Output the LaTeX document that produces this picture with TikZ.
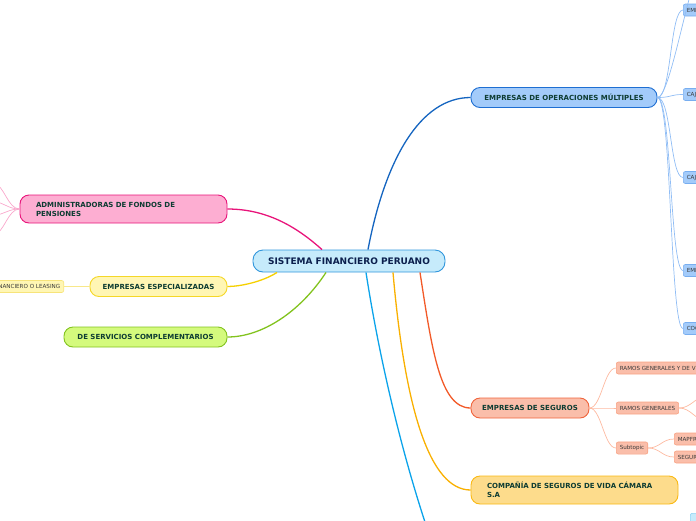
\documentclass[tikz,border=0pt]{standalone}
\usepackage{fontspec}
\setmainfont{DejaVu Sans}
\usetikzlibrary{positioning}

\definecolor{rootfill}{HTML}{C6EBFB}
\definecolor{rootline}{HTML}{3096DC}
\definecolor{roottext}{HTML}{0B1F4D}
\definecolor{topictext}{HTML}{0D3C32}
\definecolor{leaftext}{HTML}{3A3A3A}
\definecolor{eomfill}{HTML}{A3CBFA}
\definecolor{eomline}{HTML}{1E6ED2}
\definecolor{eombranch}{HTML}{1565C0}
\definecolor{eomleaf}{HTML}{78AEF0}
\definecolor{eomtwig}{HTML}{90BDF5}
\definecolor{segfill}{HTML}{FABEAA}
\definecolor{segline}{HTML}{F0643C}
\definecolor{segbranch}{HTML}{F25A29}
\definecolor{segleaf}{HTML}{F8A384}
\definecolor{segtwig}{HTML}{FDB9A0}
\definecolor{camfill}{HTML}{FDDC8C}
\definecolor{camline}{HTML}{FAB914}
\definecolor{cambranch}{HTML}{F9B000}
\definecolor{admfill}{HTML}{FDAED2}
\definecolor{admline}{HTML}{E8147A}
\definecolor{admtwig}{HTML}{F9A8CC}
\definecolor{espfill}{HTML}{FFF6B4}
\definecolor{espline}{HTML}{F5D728}
\definecolor{espbranch}{HTML}{F5D000}
\definecolor{espleaf}{HTML}{F7E47A}
\definecolor{esptwig}{HTML}{F8E88A}
\definecolor{servfill}{HTML}{D4FA7D}
\definecolor{servline}{HTML}{82C31E}
\definecolor{cyanbranch}{HTML}{0BA3EA}
\definecolor{cyanleaf}{HTML}{8FD3F4}

\begin{document}
\begin{tikzpicture}[
    x=1pt, y=-1pt,
    topic/.style={rectangle, draw, rounded corners=9pt, line width=0.9pt,
                  text=topictext, font=\bfseries\fontsize{7}{9}\selectfont,
                  minimum height=20pt, inner xsep=8pt},
    root/.style={topic, rounded corners=10pt, text=roottext,
                 font=\bfseries\fontsize{9}{11}\selectfont,
                 minimum width=192pt, minimum height=22pt},
    twoline/.style={topic, align=left, text width=175pt, inner xsep=16pt,
                    minimum height=28pt},
    leaf/.style={rectangle, draw, rounded corners=2pt, line width=0.6pt,
                 text=leaftext, font=\fontsize{5.6}{6.5}\selectfont,
                 minimum height=12pt, inner xsep=3.5pt, anchor=west},
    branch/.style={line width=1.3pt},
    twig/.style={line width=0.7pt},
]
\useasboundingbox (0,0) rectangle (696,520);
\clip (0,0) rectangle (696,520);

% ---------- central topic ----------
\node[root, fill=rootfill, draw=rootline] (root) at (349,261) {SISTEMA FINANCIERO PERUANO};

% ---------- right side topics ----------
\node[topic, fill=eomfill, draw=eomline, minimum width=186pt] (eom) at (564,97.5)
      {EMPRESAS DE OPERACIONES MÚLTIPLES};
\node[topic, fill=segfill, draw=segline, minimum width=118pt] (seg) at (530,408)
      {EMPRESAS DE SEGUROS};
\node[twoline, fill=camfill, draw=camline] (camara) at (574.5,490)
      {COMPAÑÍA DE SEGUROS DE VIDA CÁMARA\\S.A};

% ---------- left side topics ----------
\node[twoline, fill=admfill, draw=admline] (adm) at (123.5,209)
      {ADMINISTRADORAS DE FONDOS DE\\PENSIONES};
\node[topic, fill=espfill, draw=espline, minimum width=137pt] (esp) at (158.5,286.5)
      {EMPRESAS ESPECIALIZADAS};
\node[topic, fill=servfill, draw=servline, minimum width=163pt] (serv) at (145.5,337)
      {DE SERVICIOS COMPLEMENTARIOS};

% ---------- leaves: operaciones multiples ----------
\node[leaf, fill=eomfill, draw=eomleaf] (banc) at (683,10)    {EMPRESAS BANCARIAS};
\node[leaf, fill=eomfill, draw=eomleaf] (cmac) at (683,94.5)  {CAJAS MUNICIPALES};
\node[leaf, fill=eomfill, draw=eomleaf] (crac) at (683,177.5) {CAJAS RURALES};
\node[leaf, fill=eomfill, draw=eomleaf] (fin)  at (683,270.5) {EMPRESAS FINANCIERAS};
\node[leaf, fill=eomfill, draw=eomleaf] (coop) at (683,328.5) {COOPERATIVAS};
\coordinate (eomup) at (705,-40);

% ---------- leaves: seguros ----------
\node[leaf, fill=segfill, draw=segleaf] (rgv)  at (616,368) {RAMOS GENERALES Y DE VIDA};
\node[leaf, fill=segfill, draw=segleaf] (rg)   at (616,408) {RAMOS GENERALES};
\node[leaf, fill=segfill, draw=segleaf] (sub)  at (616,448) {Subtopic};
\node[leaf, fill=segfill, draw=segleaf] (mapfre) at (674,439) {MAPFRE};
\node[leaf, fill=segfill, draw=segleaf] (segur)  at (674,457) {SEGUROS};
\coordinate (rgup) at (705,397);
\coordinate (rgdn) at (705,420);

% ---------- leaves: left side ----------
\node[leaf, fill=espfill, draw=espleaf, anchor=east] (leasing) at (64,286.5)
      {FINANCIERO O LEASING};
\coordinate (adm1) at (-6,184);
\coordinate (adm2) at (-6,202);
\coordinate (adm3) at (-6,215);
\coordinate (adm4) at (-6,234);

% ---------- bottom branch (off page) ----------
\coordinate (cyanend) at (431,540);
\node[leaf, fill=rootfill, draw=cyanleaf, anchor=north west, minimum width=20pt] (cyleaf) at (690,513) {};

% ---------- main branches ----------
\draw[branch, eombranch] ([xshift=19pt]root.north) .. controls (385,160) and (420,97.5) .. (eom.west);
\draw[branch, segbranch] ([xshift=71pt]root.south) .. controls (432,350) and (440,408) .. (seg.west);
\draw[branch, cambranch] ([xshift=44pt]root.south) .. controls (405,410) and (430,490) .. (camara.west);
\draw[branch, cyanbranch] ([xshift=17pt]root.south) .. controls (378,350) and (400,450) .. (cyanend);
\draw[branch, admline] ([xshift=-27pt]root.north) .. controls (300,230) and (270,209) .. (adm.east);
\draw[branch, espbranch] ([xshift=-72pt]root.south) .. controls (262,282) and (240,286.5) .. (esp.east);
\draw[branch, servline] ([xshift=-23pt]root.south) .. controls (300,312) and (262,337) .. (serv.east);

% ---------- twigs ----------
\foreach \n in {eomup, banc, cmac, crac, fin, coop}
  \draw[twig, eomtwig] (eom.east) .. controls +(14,0) and +(-13,0) .. (\n.west);
\foreach \n in {rgv, rg, sub}
  \draw[twig, segtwig] (seg.east) .. controls +(12,0) and +(-12,0) .. (\n.west);
\foreach \n in {mapfre, segur}
  \draw[twig, segtwig] (sub.east) .. controls +(12,0) and +(-12,0) .. (\n.west);
\foreach \n in {rgup, rgdn}
  \draw[twig, segtwig] (rg.east) .. controls +(12,0) and +(-10,0) .. (\n);
\foreach \n in {adm1, adm2, adm3, adm4}
  \draw[twig, admtwig] (adm.west) .. controls +(-12,0) and +(10,0) .. (\n);
\draw[twig, esptwig] (esp.west) -- (leasing.east);

\end{tikzpicture}
\end{document}
